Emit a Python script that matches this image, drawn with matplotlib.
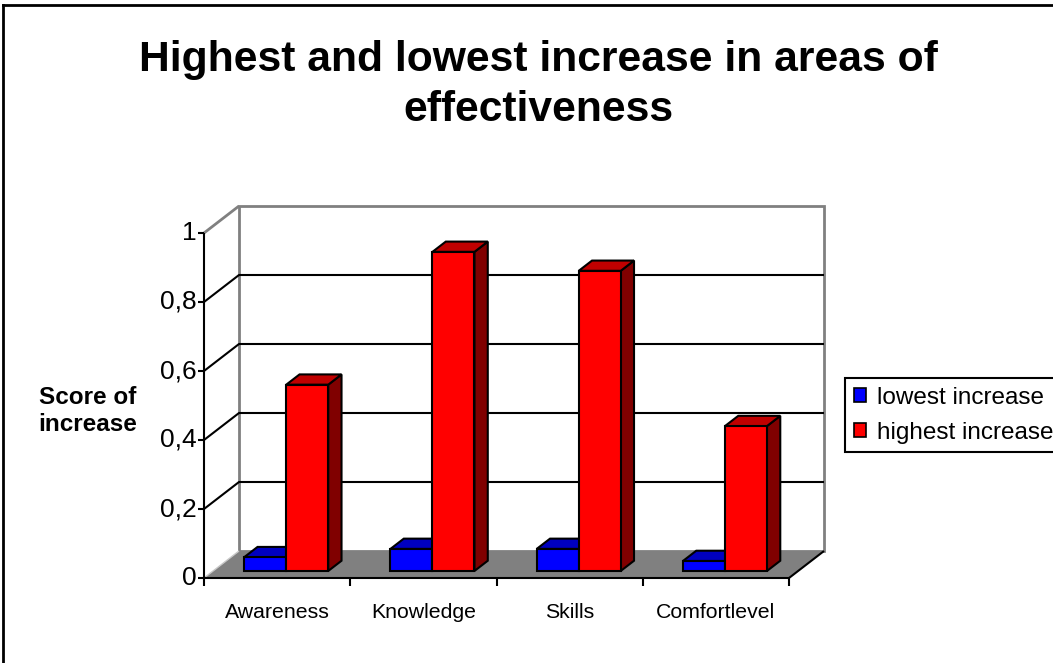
import matplotlib
matplotlib.use('Agg')
import matplotlib.pyplot as plt
from matplotlib.patches import Polygon, Patch
from matplotlib.lines import Line2D

# data
categories = ['Awareness', 'Knowledge', 'Skills', 'Comfortlevel']
lowest = [0.04, 0.064, 0.064, 0.029]
highest = [0.54, 0.925, 0.87, 0.42]
series_names = ['lowest increase', 'highest increase']
yticks = [0, 0.2, 0.4, 0.6, 0.8, 1]
ytick_labels = ['0', '0,2', '0,4', '0,6', '0,8', '1']

plt.rcParams['font.family'] = ['Liberation Sans', 'DejaVu Sans']

W, H = 1053, 663
fig = plt.figure(figsize=(W / 100, H / 100), dpi=100)
ax = fig.add_axes([204 / W, 1 - 600 / H, 626 / W, 400 / H])
ax.set_xlim(0, 626 / 146.25)
ax.set_ylim(-22 / 345, 378 / 345)
ax.axis('off')

n = len(categories)
DX, DY = 35 / 146.25, 27 / 345   # offset of the back wall (full depth)


def p(x, v, d=0.0):
    return (x + d * DX, v + d * DY)


def poly(pts, fc, ec='none', lw=0, z=1):
    ax.add_patch(Polygon(pts, closed=True, facecolor=fc, edgecolor=ec,
                         linewidth=lw, zorder=z, clip_on=False, joinstyle='miter'))


def line(xs, ys, c='black', lw=1.5, z=2):
    ax.plot(xs, ys, color=c, lw=lw, zorder=z, clip_on=False, solid_capstyle='butt')


# back wall
poly([p(0, 0, 1), p(n, 0, 1), p(n, 1, 1), p(0, 1, 1)], 'white', '#808080', 2, z=1)
# gridlines on side wall and back wall
for v in yticks[1:-1]:
    line([0, DX, n + DX], [v, v + DY, v + DY], 'black', 1.5, z=2)
line([0, DX], [1, 1 + DY], '#808080', 2, z=2)

# floor
poly([p(0, 0), p(n, 0), p(n, 0, 1), p(0, 0, 1)], '#808080', z=3)
line([0, DX], [0, DY], '#c8c8c8', 1, z=3)
line([0, n, n + DX], [0, 0, DY], 'black', 1.5, z=4)

# value axis
line([0, 0], [0, 1], 'black', 1.5, z=4)
for v, lab in zip(yticks, ytick_labels):
    line([-6 / 146.25, 0], [v, v], 'black', 1.5, z=4)
    ax.text(-7 / 146.25, v, lab, ha='right', va='center', fontsize=19)

# category axis
for i in range(n + 1):
    line([i, i], [0, -8 / 345], 'black', 1.5, z=4)
for i, cat in enumerate(categories):
    ax.text(i + 0.5, -35 / 345, cat, ha='center', va='center', fontsize=15.3)

# 3d bars
d0, d1 = 0.26, 0.64
bw = 42 / 146.25
styles = [('#0000ff', '#0000c0', '#000080'), ('#ff0000', '#c00000', '#800000')]


def bar3d(x0, x1, v, cols, z):
    front, top, side = cols
    poly([p(x1, 0, d0), p(x1, 0, d1), p(x1, v, d1), p(x1, v, d0)], side, 'black', 1.5, z)
    poly([p(x0, v, d0), p(x1, v, d0), p(x1, v, d1), p(x0, v, d1)], top, 'black', 1.5, z)
    poly([p(x0, 0, d0), p(x1, 0, d0), p(x1, v, d0), p(x0, v, d0)], front, 'black', 1.5, z)


for i in range(n):
    c = i + 0.5
    bar3d(c - bw, c, lowest[i], styles[0], 5)
    bar3d(c, c + bw, highest[i], styles[1], 6)

# title and axis title
fig.text(538 / W, 1 - 85 / H, 'Highest and lowest increase in areas of\neffectiveness',
         ha='center', va='center', fontsize=30.7, fontweight='bold', linespacing=1.33)
fig.text(88 / W, 1 - 411 / H, 'Score of\nincrease', ha='center', va='center',
         fontsize=17.5, fontweight='bold', linespacing=1.2)

# legend
handles = [Patch(facecolor=styles[k][0], edgecolor='black', linewidth=1.2)
           for k in range(2)]
leg = fig.legend(handles, series_names, loc='upper left',
                 bbox_to_anchor=(845 / W, 1 - 378 / H), fontsize=17.5,
                 frameon=True, fancybox=False, framealpha=1, edgecolor='black',
                 handlelength=0.5, handleheight=0.5, handletextpad=0.45,
                 borderpad=0.35, labelspacing=0.55, borderaxespad=0)
leg.get_frame().set_linewidth(1.5)

# chart border (only left and top visible)
fig.add_artist(Line2D([3 / W, 3 / W], [0, 1 - 5 / H], color='black', lw=2))
fig.add_artist(Line2D([3 / W, 1], [1 - 5 / H, 1 - 5 / H], color='black', lw=2))

fig.savefig('out.png', dpi=100)
